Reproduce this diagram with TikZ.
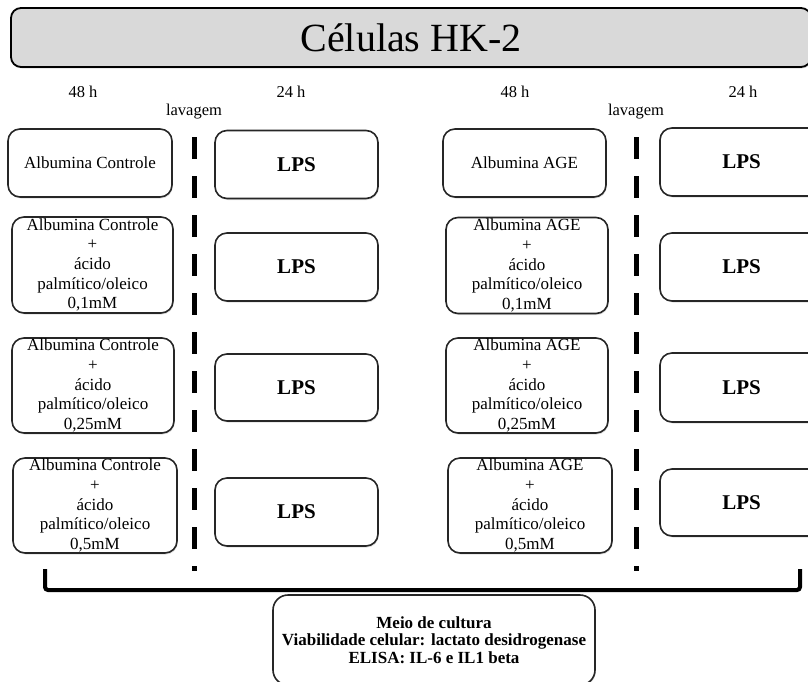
\documentclass[tikz,border=0pt]{standalone}
\usepackage{fontspec}
\setmainfont{Liberation Serif}
\usetikzlibrary{shadows}
\definecolor{cinza}{HTML}{D9D9D9}

\tikzset{
    sombra/.style={drop shadow={opacity=0.25, shadow xshift=0.8pt, shadow yshift=-1.5pt}},
    caixa/.style={draw=black!85, fill=white, sombra, line width=1.6pt, rounded corners=12pt, inner sep=0pt,
        align=center, minimum width=163pt, font=\fontsize{17}{19.7}\selectfont},
    albumina/.style={caixa, minimum height=95pt},
    lps/.style={caixa, minimum height=68pt, font=\fontsize{21}{24}\selectfont\bfseries},
    tempo/.style={font=\fontsize{16.5}{19}\selectfont},
    lavagem/.style={line width=5pt, dash pattern=on 22pt off 17pt}
}

\begin{document}
\begin{tikzpicture}[x=1pt, y=-1pt]
    \clip (0,0) rectangle (808,681);
    \node[draw=black, fill=cinza, sombra, line width=1.8pt, rounded corners=10pt, minimum width=800pt, minimum height=59pt,
        font=\fontsize{40}{44}\selectfont] (titulo) at (411,37.5) {Células HK-2};

    \node[tempo] (t48a) at (83,92) {48 h};
    \node[tempo] (t24a) at (291,92) {24 h};
    \node[tempo] (t48b) at (515,92) {48 h};
    \node[tempo] (t24b) at (743,92) {24 h};
    \node[tempo] (lavA) at (194,112) {lavagem};
    \node[tempo] (lavB) at (636,112) {lavagem};

    \node[caixa, minimum width=164pt, minimum height=68pt] (ctrl1) at (90,163) {Albumina Controle};
    \node[albumina, minimum width=161pt, minimum height=96pt] (ctrl2) at (92.5,265) {Albumina Controle\\+\\ácido\\palmítico/oleico\\0,1mM};
    \node[albumina, minimum width=162pt] (ctrl3) at (93,385.5) {Albumina Controle\\+\\ácido\\palmítico/oleico\\0,25mM};
    \node[albumina, minimum width=164pt] (ctrl4) at (95,505.5) {Albumina Controle\\+\\ácido\\palmítico/oleico\\0,5mM};

    \node[lps] (lpsA1) at (296.5,164.5) {LPS};
    \node[lps] (lpsA2) at (296.5,267) {LPS};
    \node[lps, minimum height=67pt] (lpsA3) at (296.5,387.5) {LPS};
    \node[lps] (lpsA4) at (296.5,512) {LPS};

    \node[caixa, minimum height=68pt] (age1) at (524.5,163) {Albumina AGE};
    \node[albumina, minimum width=162pt, minimum height=96pt] (age2) at (527,265.5) {Albumina AGE\\+\\ácido\\palmítico/oleico\\0,1mM};
    \node[albumina, minimum width=162pt] (age3) at (527,385.5) {Albumina AGE\\+\\ácido\\palmítico/oleico\\0,25mM};
    \node[albumina, minimum width=164pt] (age4) at (530,505.5) {Albumina AGE\\+\\ácido\\palmítico/oleico\\0,5mM};

    \node[lps] (lpsB1) at (741.5,162) {LPS};
    \node[lps] (lpsB2) at (741.5,267) {LPS};
    \node[lps, minimum height=69pt] (lpsB3) at (741.5,387.5) {LPS};
    \node[lps, minimum height=67pt] (lpsB4) at (741.5,502.5) {LPS};

    \coordinate (corteA1) at (194,137);
    \coordinate (corteA2) at (194,571);
    \coordinate (corteB1) at (636,137);
    \coordinate (corteB2) at (636,571);
    \draw[lavagem] (corteA1) -- (corteA2);
    \draw[lavagem] (corteB1) -- (corteB2);

    \coordinate (chaveE) at (45,569);
    \coordinate (chaveD) at (800,569);
    \draw[line width=4pt, rounded corners=3pt] (chaveE) -- (45,590) -- (800,590) -- (chaveD);

    \node[caixa, rounded corners=15pt, minimum width=322pt, minimum height=90pt,
        font=\fontsize{17}{17.5}\selectfont\bfseries] (analise) at (434,640)
        {Meio de cultura\\Viabilidade celular: lactato desidrogenase\\ELISA: IL-6 e IL1 beta};
\end{tikzpicture}
\end{document}
